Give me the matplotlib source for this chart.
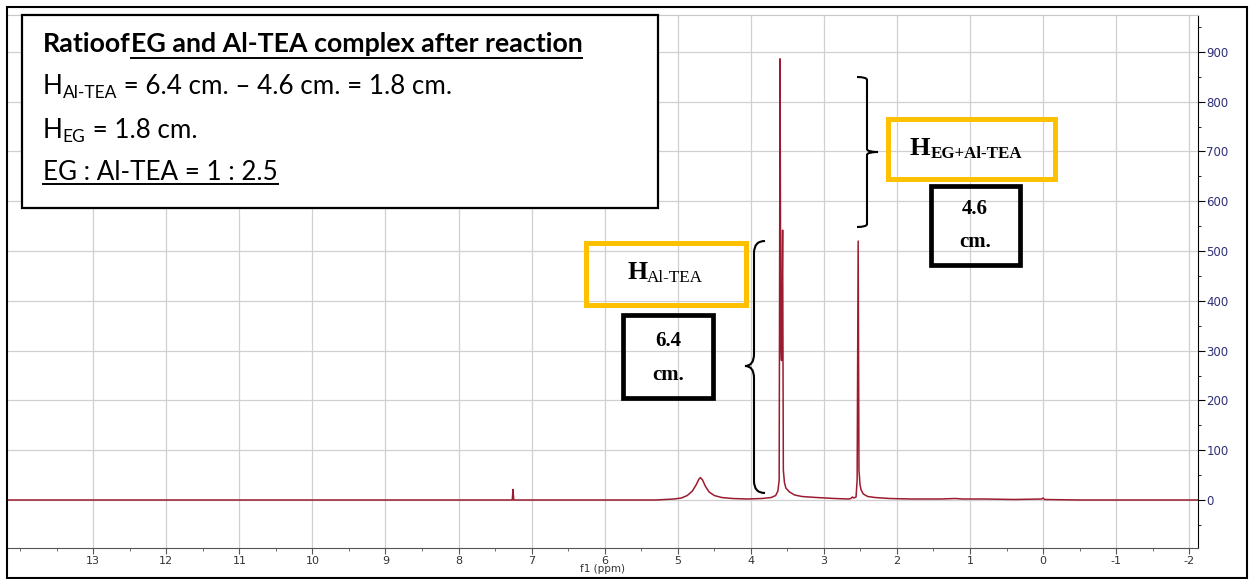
import matplotlib
matplotlib.use("Agg")
import matplotlib.pyplot as plt
from matplotlib.patches import Rectangle, PathPatch
from matplotlib.path import Path
from matplotlib.ticker import FixedLocator, MultipleLocator

plt.rcParams["axes.unicode_minus"] = False

# spectrum trace (ppm, intensity)
shift_ppm = [14.2, 7.30, 7.265, 7.255, 7.245, 7.22, 5.30, 5.05, 4.95, 4.87, 4.80,
             4.75, 4.71, 4.69, 4.66, 4.62, 4.57, 4.50, 4.40, 4.25, 4.05, 3.85,
             3.72, 3.66, 3.63, 3.612, 3.600, 3.590, 3.580, 3.565, 3.555, 3.54,
             3.52, 3.47, 3.40, 3.30, 3.10, 2.85, 2.66, 2.63, 2.61, 2.59, 2.56,
             2.545, 2.531, 2.52, 2.505, 2.49, 2.46, 2.40, 2.30, 2.10, 1.80, 1.40,
             1.20, 1.10, 0.80, 0.40, 0.02, 0.0, -0.02, -0.5, -2.12]
intensity = [0, 0, 0, 21, 0, 0, 0, 2, 4, 9, 18,
             30, 42, 45, 40, 27, 16, 9, 5, 3, 2, 3,
             5, 9, 18, 40, 886, 320, 280, 542, 60, 35,
             24, 16, 10, 7, 5, 3, 2, 3, 6, 4, 6,
             40, 520, 60, 30, 20, 12, 7, 5, 3, 2, 2,
             3, 2, 2, 1, 2, 4, 1, 0, 0]

x_ticks = list(range(13, -3, -1))
y_ticks = list(range(0, 1000, 100))

W, H = 1250, 579
fig = plt.figure(figsize=(W / 100, H / 100), dpi=100)
fig.patch.set_facecolor("white")

# spectrum axes (pixel box 7..1198 x 15..548)
ax = fig.add_axes([7 / W, 1 - 548 / H, (1198 - 7) / W, (548 - 15) / H])
ax.plot(shift_ppm, intensity, color="#9b1b30", lw=1.1)
ax.set_xlim(14.18, -2.12)
ax.set_ylim(-96.4, 974)

ax.xaxis.set_major_locator(FixedLocator(x_ticks))
ax.xaxis.set_minor_locator(MultipleLocator(0.5))
ax.yaxis.set_major_locator(FixedLocator(y_ticks))
ax.yaxis.set_minor_locator(MultipleLocator(50))
ax.yaxis.tick_right()
ax.grid(True, which="major", color="#d0d0d0", lw=0.9)
ax.set_axisbelow(True)

ax.spines["left"].set_visible(False)
ax.spines["top"].set_color("#c8c8c8")
ax.spines["right"].set_color("black")
ax.spines["bottom"].set_color("#555555")

ax.tick_params(axis="x", which="major", direction="out", length=4, pad=2,
               labelsize=8, labelcolor="#333333", color="#555555")
ax.tick_params(axis="x", which="minor", direction="out", length=2, color="#555555")
ax.tick_params(axis="y", which="major", direction="out", length=5, pad=1,
               labelsize=8.5, labelcolor="#2e2e78")
ax.tick_params(axis="y", which="minor", direction="out", length=2.5)
ax.set_xlabel("f1 (ppm)", fontsize=7.5, labelpad=-1.5, color="#333333")

# overlay in pixel coordinates for the annotations
ov = fig.add_axes([0, 0, 1, 1], zorder=5)
ov.set_xlim(0, W)
ov.set_ylim(H, 0)
ov.axis("off")

ov.add_patch(Rectangle((7, 7), 1240, 571, fill=False, ec="black", lw=1.5))


def sub_label(x, y, main, sub, rest, size, sub_size, family, weight="normal",
              sub_weight="normal", lift=0.5):
    t1 = ov.text(x, y, main, fontsize=size, family=family, weight=weight,
                 va="baseline", ha="left")
    t2 = ov.annotate(sub, xy=(1, 0), xycoords=t1, xytext=(0, lift),
                     textcoords="offset points", fontsize=sub_size, family=family,
                     weight=sub_weight, va="baseline", ha="left")
    t3 = None
    if rest:
        t3 = ov.annotate(rest, xy=(1, 0), xycoords=(t2, t1), fontsize=size,
                         family=family, weight=weight, va="bottom", ha="left")
    return t1, t2, t3


# info box
ov.add_patch(Rectangle((22, 15), 636, 193, fc="white", ec="black", lw=1.6))
sans = "Lato"
t_a = ov.text(43, 52, "Ratioof", fontsize=19.3, family=sans, weight="bold", va="baseline")
t_b = ov.annotate("EG and Al-TEA complex after reaction", xy=(1, 0), xycoords=t_a,
                  fontsize=19.3, family=sans, weight="bold", va="bottom", ha="left")
sub_label(43, 94, "H", "Al-TEA", " = 6.4 cm. \u2013 4.6 cm. = 1.8 cm.", 18.7, 12.5, sans,
          lift=0.8)
sub_label(43, 138, "H", "EG", " = 1.8 cm.", 18.7, 12.5, sans, lift=0.8)
t_d = ov.text(43, 180, "EG : Al-TEA = 1 : 2.5", fontsize=18.7, family=sans, va="baseline")

# yellow label boxes
gold = "#ffc000"
ov.add_patch(Rectangle((585.5, 242.5), 160, 62, fill=False, ec=gold, lw=3.6))
ov.add_patch(Rectangle((887.5, 118.5), 167, 60, fill=False, ec=gold, lw=3.6))
serif = "Liberation Serif"
sub_label(627, 279, "H", "Al-TEA", "", 18.5, 12.3, serif, weight="bold", lift=1.1)
sub_label(910, 155, "H", "EG+Al-TEA", "", 19, 12.2, serif, weight="bold",
          sub_weight="bold", lift=1.1)

# black value boxes
ov.add_patch(Rectangle((622.5, 314.5), 90, 83, fill=False, ec="black", lw=3.4))
ov.add_patch(Rectangle((930.5, 185.5), 89, 79, fill=False, ec="black", lw=3.4))
for cx, y1, y2, val in [(668, 346, 380, "6.4"), (975, 214, 247, "4.6")]:
    ov.text(cx, y1, val, fontsize=15, family=serif, weight="bold", ha="center", va="baseline")
    ov.text(cx, y2, "cm.", fontsize=15, family=serif, weight="bold", ha="center", va="baseline")


def brace(x_line, y_top, y_bot, y_tip, x_tip, x_end, r=8):
    verts = [(x_end, y_top), (x_line, y_top), (x_line, y_top + r),
             (x_line, y_tip - r), (x_line, y_tip), (x_tip, y_tip),
             (x_line, y_tip), (x_line, y_tip + r),
             (x_line, y_bot - r), (x_line, y_bot), (x_end, y_bot)]
    codes = [Path.MOVETO, Path.CURVE3, Path.CURVE3,
             Path.LINETO, Path.CURVE3, Path.CURVE3,
             Path.CURVE3, Path.CURVE3,
             Path.LINETO, Path.CURVE3, Path.CURVE3]
    ov.add_patch(PathPatch(Path(verts, codes), fill=False, ec="black", lw=1.5))


brace(867, 77, 227, 152, 878, 857, r=3)
brace(754, 241, 493, 366, 745, 765, r=12)

# underlines
fig.canvas.draw()
inv = ov.transData.inverted()
for t, y in [(t_b, 58), (t_d, 184)]:
    bb = t.get_window_extent()
    x0 = inv.transform((bb.x0, 0))[0]
    x1 = inv.transform((bb.x1, 0))[0]
    ov.plot([x0, x1], [y, y], color="black", lw=1.4)

fig.savefig("out.png", dpi=100)
